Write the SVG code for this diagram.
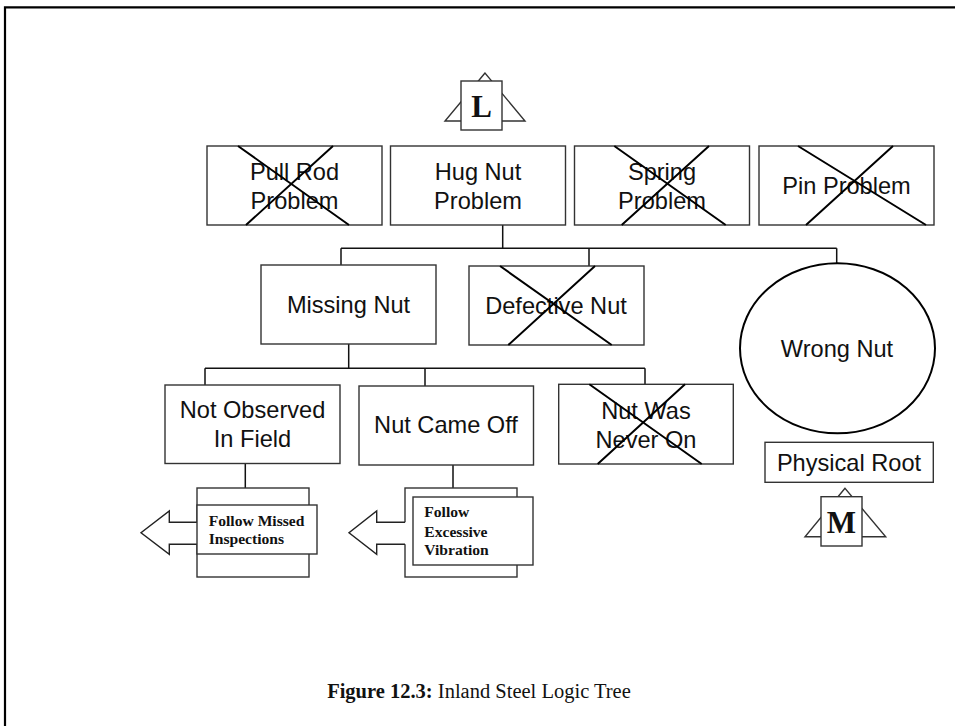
<svg xmlns="http://www.w3.org/2000/svg" width="955" height="726" viewBox="0 0 955 726">
<defs>
<style>
.box{fill:#fff;stroke:#333;stroke-width:1.4}
.x{stroke:#000;stroke-width:2;fill:none}
.ln{stroke:#111;stroke-width:1.5;fill:none}
.t{font-family:"Liberation Sans",Arial,sans-serif;font-size:23.6px;fill:#111;text-anchor:middle}
.f{font-family:"Liberation Serif","Times New Roman",serif;font-size:15.6px;font-weight:bold;fill:#111}
.sym{font-family:"Liberation Serif","Times New Roman",serif;font-size:31px;font-weight:bold;fill:#111;text-anchor:middle}
.tri{fill:#fff;stroke:#333;stroke-width:1.4}
.arr{fill:#fff;stroke:#222;stroke-width:1.4;stroke-linejoin:miter}
</style>
</defs>
<rect x="0" y="0" width="955" height="726" fill="#fff"/>
<path d="M5 726 V7.3 H955" fill="none" stroke="#000" stroke-width="2.2"/>

<g id="connectors">
<path class="ln" d="M502.7 225 V248.3 M341 248.3 H836.7 M341 248.3 V265 M589 248.3 V266 M836.7 248.3 V263.3"/>
<path class="ln" d="M348.7 344 V368.3 M205 368.3 H645 M205 368.3 V385 M425 368.3 V386 M645 368.3 V384.3"/>
<path class="ln" d="M245.3 463.5 V488 M453 465 V488"/>
</g>

<g id="symbol-L">
<polygon class="tri" points="485,73 445,121 525,121"/>
<rect class="box" x="461" y="81" width="41" height="49"/>
<text class="sym" x="481.5" y="117.3">L</text>
</g>

<g id="node-pull-rod">
<rect class="box" x="207" y="146" width="175" height="79"/>
<text class="t" x="294.5" y="180">Pull Rod</text>
<text class="t" x="294.5" y="209">Problem</text>
<path class="x" d="M238 146 L349 225 M333 146 L246 225"/>
</g>

<g id="node-hug-nut">
<rect class="box" x="390.5" y="146" width="175" height="79"/>
<text class="t" x="478" y="180">Hug Nut</text>
<text class="t" x="478" y="209">Problem</text>
</g>

<g id="node-spring">
<rect class="box" x="574.5" y="146" width="175" height="79"/>
<text class="t" x="662" y="180">Spring</text>
<text class="t" x="662" y="209">Problem</text>
<path class="x" d="M614.3 146 L725.7 225 M709 146 L621.7 225"/>
</g>

<g id="node-pin">
<rect class="box" x="759" y="146" width="175" height="79"/>
<text class="t" x="846.5" y="193.5">Pin Problem</text>
<path class="x" d="M798 146 L926 225 M893 146 L806 225"/>
</g>

<g id="node-missing-nut">
<rect class="box" x="261" y="265" width="175" height="79"/>
<text class="t" x="348.5" y="313.3">Missing Nut</text>
</g>

<g id="node-defective-nut">
<rect class="box" x="469" y="266" width="175" height="79"/>
<text class="t" x="556" y="314">Defective Nut</text>
<path class="x" d="M500 266 L611.7 345 M595 266 L508.3 345"/>
</g>

<g id="node-wrong-nut">
<ellipse cx="837.5" cy="348.3" rx="97.5" ry="85" fill="#fff" stroke="#000" stroke-width="2"/>
<text class="t" x="837" y="357">Wrong Nut</text>
</g>

<g id="node-physical-root">
<rect class="box" x="765" y="442.3" width="168.3" height="40"/>
<text class="t" x="849" y="470.7">Physical Root</text>
</g>

<g id="symbol-M">
<polygon class="tri" points="845,488.3 805,536.7 885.7,536.7"/>
<rect class="box" x="821" y="496.7" width="41" height="49.3"/>
<text class="sym" x="841.5" y="533.3">M</text>
</g>

<g id="node-not-observed">
<rect class="box" x="165" y="385" width="175" height="78.5"/>
<text class="t" x="252.5" y="418.3">Not Observed</text>
<text class="t" x="252.5" y="447.3">In Field</text>
</g>

<g id="node-nut-came-off">
<rect class="box" x="359" y="386" width="174.5" height="79"/>
<text class="t" x="446" y="433.3">Nut Came Off</text>
</g>

<g id="node-nut-never-on">
<rect class="box" x="558.7" y="384.3" width="174.6" height="79.7"/>
<text class="t" x="646" y="419.3">Nut Was</text>
<text class="t" x="646" y="448.3">Never On</text>
<path class="x" d="M589.3 384.3 L701.7 464 M685 384.3 L597.7 464"/>
</g>

<g id="node-follow-missed">
<rect class="box" x="197" y="488" width="112" height="89"/>
<path d="M197 522.3 H169.3 V511 L141 532.7 L169.3 554.3 V544.3 H197 Z" fill="#fff" stroke="none"/>
<path class="arr" fill="none" d="M197 522.3 H169.3 V511 L141 532.7 L169.3 554.3 V544.3 H197"/>
<rect class="box" x="197" y="505" width="120" height="49"/>
<text class="f" x="208.7" y="525.7">Follow Missed</text>
<text class="f" x="208.7" y="544.3">Inspections</text>
</g>

<g id="node-follow-vibration">
<rect class="box" x="405" y="488" width="112" height="89"/>
<path d="M406 522.3 H376.7 V511 L349 532.7 L376.7 554.3 V544.3 H406 Z" fill="#fff" stroke="none"/>
<path class="arr" fill="none" d="M405 522.3 H376.7 V511 L349 532.7 L376.7 554.3 V544.3 H405"/>
<rect class="box" x="413" y="497" width="120" height="68"/>
<text class="f" x="424.3" y="517.3">Follow</text>
<text class="f" x="424.3" y="536.7">Excessive</text>
<text class="f" x="424.3" y="555">Vibration</text>
</g>

<g id="caption">
<text x="479" y="698" text-anchor="middle" font-family="'Liberation Serif','Times New Roman',serif" font-size="20.5" fill="#111"><tspan font-weight="bold">Figure 12.3:</tspan> Inland Steel Logic Tree</text>
</g>
</svg>
